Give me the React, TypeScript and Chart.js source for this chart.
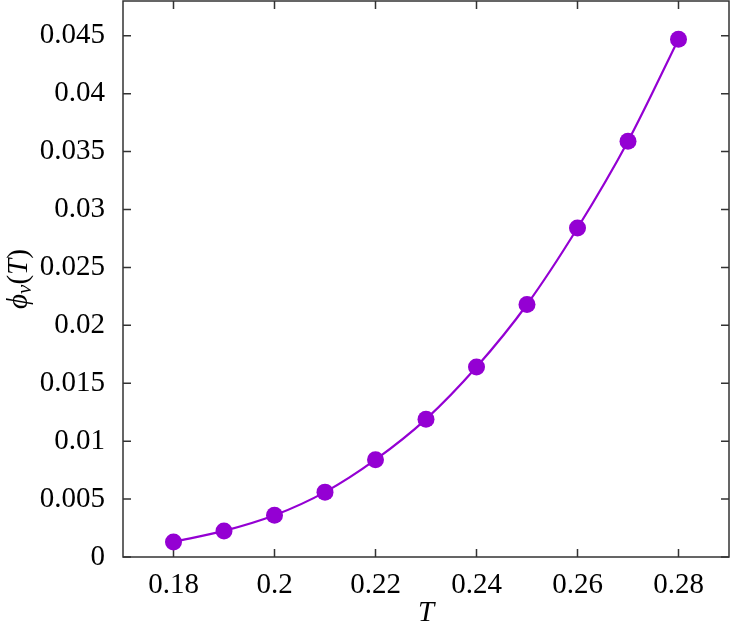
import React, { useEffect, useRef } from "react";
import { Chart, registerables } from "chart.js";

Chart.register(...registerables);

const T_VALUES = [0.18, 0.19, 0.2, 0.21, 0.22, 0.23, 0.24, 0.25, 0.26, 0.27, 0.28];
const PHI_VALUES = [0.0013, 0.00225, 0.0036, 0.0056, 0.0084, 0.0119, 0.0164, 0.0218, 0.0284, 0.0359, 0.0447];
const X_TICKS = [0.18, 0.2, 0.22, 0.24, 0.26, 0.28];
const X_TICK_LABELS = ["0.18", "0.2", "0.22", "0.24", "0.26", "0.28"];
const Y_TICKS = [0, 0.005, 0.01, 0.015, 0.02, 0.025, 0.03, 0.035, 0.04, 0.045];
const Y_TICK_LABELS = ["0", "0.005", "0.01", "0.015", "0.02", "0.025", "0.03", "0.035", "0.04", "0.045"];

const COLOR = "#9400d3";
const AXIS_COLOR = "#333333";
const FONT_FAMILY = "'Liberation Serif', 'DejaVu Serif', serif";

const framePlugin = {
  id: "frame",
  beforeDatasetsDraw(chart: any) {
    const { ctx, chartArea, scales } = chart;
    const { left, right, top, bottom } = chartArea;
    const x = scales.x;
    const y = scales.y;
    ctx.save();
    ctx.strokeStyle = AXIS_COLOR;
    ctx.lineWidth = 1.5;
    ctx.strokeRect(left, top, right - left, bottom - top);
    ctx.beginPath();
    x.ticks.forEach((t: any) => {
      const px = x.getPixelForValue(t.value);
      ctx.moveTo(px, bottom);
      ctx.lineTo(px, bottom - 8);
      ctx.moveTo(px, top);
      ctx.lineTo(px, top + 8);
    });
    y.ticks.forEach((t: any) => {
      const py = y.getPixelForValue(t.value);
      ctx.moveTo(left, py);
      ctx.lineTo(left + 8, py);
      ctx.moveTo(right, py);
      ctx.lineTo(right - 8, py);
    });
    ctx.stroke();
    ctx.restore();
  },
  afterDraw(chart: any) {
    const { ctx, chartArea } = chart;
    const cy = (chartArea.top + chartArea.bottom) / 2;
    ctx.save();
    ctx.translate(19, cy);
    ctx.rotate(-Math.PI / 2);
    ctx.fillStyle = "#000";
    ctx.textBaseline = "middle";
    ctx.textAlign = "left";
    const big = "29px " + FONT_FAMILY;
    const bigI = "italic 29px " + FONT_FAMILY;
    const smallI = "italic 21px " + FONT_FAMILY;
    const parts: [string, string, number][] = [
      ["\u03d5", bigI, 0],
      ["v", smallI, 6],
      ["(", big, 0],
      ["T", bigI, 0],
      [")", big, 0],
    ];
    let total = 0;
    parts.forEach(([t, f]) => {
      ctx.font = f;
      total += ctx.measureText(t).width;
    });
    let xx = -total / 2;
    parts.forEach(([t, f, dy]) => {
      ctx.font = f;
      ctx.fillText(t, xx, dy);
      xx += ctx.measureText(t).width;
    });
    ctx.restore();
  },
};

export default function App() {
  const ref = useRef<HTMLCanvasElement | null>(null);
  useEffect(() => {
    document.body.style.margin = "0";
    if (!ref.current) return;
    const chart = new Chart(ref.current, {
      type: "line",
      data: {
        datasets: [
          {
            data: T_VALUES.map((t, i) => ({ x: t, y: PHI_VALUES[i] })),
            borderColor: COLOR,
            backgroundColor: COLOR,
            borderWidth: 2.2,
            pointRadius: 8.5,
            pointBackgroundColor: COLOR,
            pointBorderWidth: 0,
            cubicInterpolationMode: "monotone",
            fill: false,
            clip: false,
          },
        ],
      },
      options: {
        animation: false,
        responsive: false,
        devicePixelRatio: 1,
        layout: { autoPadding: false, padding: { top: 1, right: 2, left: 0, bottom: 0 } },
        plugins: { legend: { display: false }, tooltip: { enabled: false } },
        scales: {
          x: {
            type: "linear",
            min: 0.17,
            max: 0.29,
            afterBuildTicks: (s: any) => {
              s.ticks = X_TICKS.map((v) => ({ value: v }));
            },
            afterFit: (s: any) => {
              s.height = 66;
              s.paddingLeft = 0;
              s.paddingRight = 0;
            },
            grid: { display: false, drawTicks: false },
            border: { display: false },
            ticks: {
              color: "#000",
              font: { family: FONT_FAMILY, size: 29 },
              padding: 11,
              maxRotation: 0,
              autoSkip: false,
              callback: (_v: any, i: number) => X_TICK_LABELS[i],
            },
            title: {
              display: true,
              text: "T",
              color: "#000",
              font: { family: FONT_FAMILY, size: 29, style: "italic" },
              padding: { top: 0, bottom: -8 },
            },
          },
          y: {
            type: "linear",
            min: 0,
            max: 0.048,
            afterBuildTicks: (s: any) => {
              s.ticks = Y_TICKS.map((v) => ({ value: v }));
            },
            afterFit: (s: any) => {
              s.width = 123;
              s.paddingTop = 0;
              s.paddingBottom = 0;
            },
            grid: { display: false, drawTicks: false },
            border: { display: false },
            ticks: {
              color: "#000",
              font: { family: FONT_FAMILY, size: 29 },
              padding: 18,
              autoSkip: false,
              callback: (_v: any, i: number) => Y_TICK_LABELS[i],
            },
          },
        },
      },
      plugins: [framePlugin],
    } as any);
    return () => chart.destroy();
  }, []);
  return (
    <div style={{ position: "absolute", left: 0, top: 0, width: 731, height: 623 }}>
      <canvas ref={ref} width={731} height={623} />
    </div>
  );
}
